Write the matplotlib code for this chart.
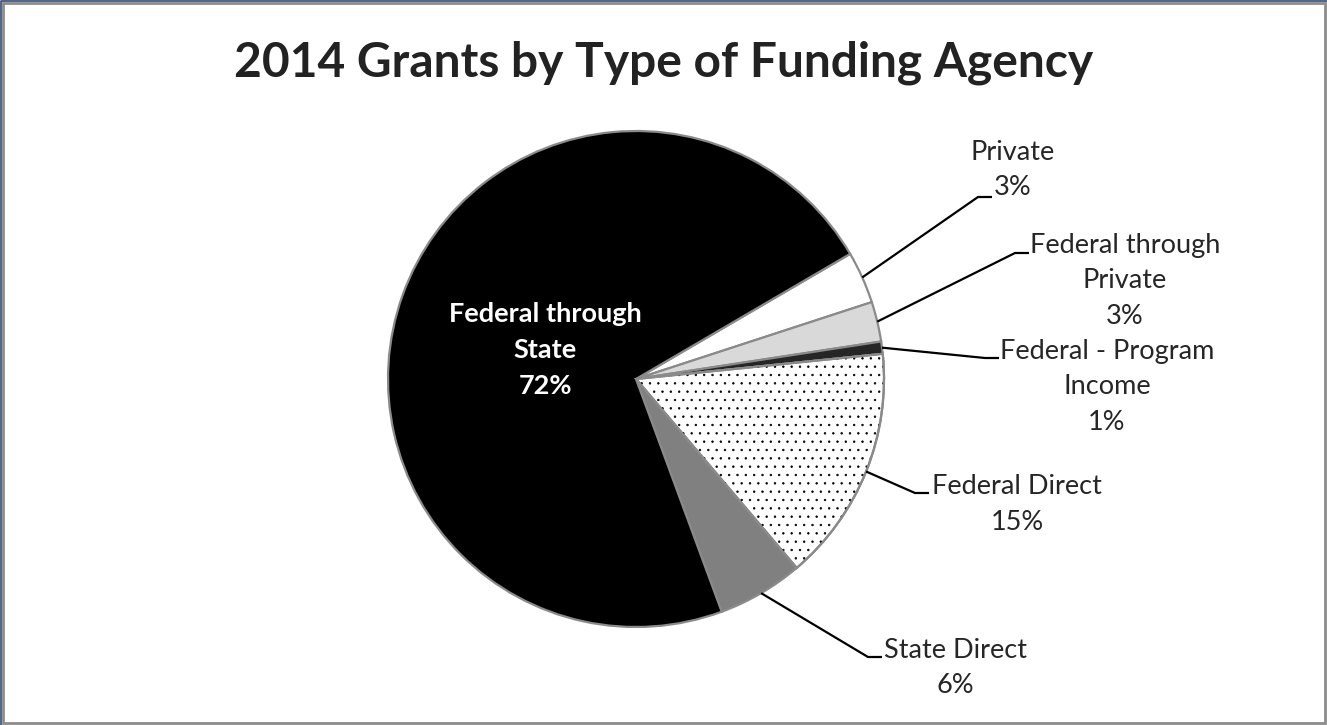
import matplotlib.pyplot as plt
import numpy as np
from matplotlib.patches import Wedge, Rectangle
from matplotlib.lines import Line2D

plt.rcParams['font.family'] = ['Lato', 'DejaVu Sans']
plt.rcParams['hatch.linewidth'] = 0.5

# funding shares (percent), clockwise from the Private slice
agencies = ['Private', 'Federal through\nPrivate', 'Federal - Program\nIncome',
            'Federal Direct', 'State Direct', 'Federal through\nState']
shares = [3.4, 2.6, 0.8, 15.4, 5.6, 72.2]
fills = ['#ffffff', '#d9d9d9', '#262626', '#ffffff', '#808080', '#000000']

W, H = 1327, 725
fig = plt.figure(figsize=(W / 100, H / 100), dpi=100)
ax = fig.add_axes([0, 0, 1, 1])

cx, cy, r = 636, H - 379, 248
wedges, _ = ax.pie(shares, colors=fills, startangle=30.3, counterclock=False,
                   center=(cx, cy), radius=r,
                   wedgeprops=dict(edgecolor='#8a8a8a', linewidth=1.6))

# dotted fill on the Federal Direct slice
fd = wedges[3]
ax.add_patch(Wedge(fd.center, fd.r, fd.theta1, fd.theta2, facecolor='none',
                   edgecolor='black', linewidth=0, hatch='..'))
ax.add_patch(Wedge(fd.center, fd.r, fd.theta1, fd.theta2, facecolor='none',
                   edgecolor='#8a8a8a', linewidth=1.6))

ax.set_xlim(0, W)
ax.set_ylim(0, H)
ax.set_aspect('equal')
ax.axis('off')

# label anchors: (elbow x, elbow y, text centre x, first line y)
label_pos = [
    (978, 197, 1013, 152),
    (1015, 253, 1125, 245),
    (985, 358, 1107, 351),
    (915, 493, 1017, 487),
    (868, 657, 955, 650),
]
line_h = 35.5
for i, (ex, ey, tx, ty) in enumerate(label_pos):
    w = wedges[i]
    mid = np.deg2rad((w.theta1 + w.theta2) / 2)
    sx, sy = cx + r * np.cos(mid), cy + r * np.sin(mid)
    ax.plot([sx, ex, ex + 14], [sy, H - ey, H - ey], color='black', lw=1.6,
            solid_capstyle='butt')
    lines = agencies[i].split('\n') + ['%.0f%%' % shares[i]]
    for k, s in enumerate(lines):
        ax.text(tx, H - (ty + k * line_h), s, ha='center', va='center',
                fontsize=19.5, color='#262626')

# big slice label sits inside the pie
for k, s in enumerate(agencies[5].split('\n') + ['%.0f%%' % shares[5]]):
    ax.text(545, H - (314 + k * 36), s, ha='center', va='center',
            fontsize=19.5, fontweight='bold', color='white')

fig.text(0.5, 1 - 63 / H, '2014 Grants by Type of Funding Agency',
         ha='center', va='center', fontsize=34.5, fontweight='bold',
         color='#222222')

# chart frame
fig.patches.append(Rectangle((2.5 / W, 2.5 / H), 1 - 5 / W, 1 - 5 / H,
                             transform=fig.transFigure, fill=False,
                             edgecolor='#8c8c8c', linewidth=2))
fig.lines.append(Line2D([0.5 / W, 0.5 / W, 1], [0, 1 - 0.5 / H, 1 - 0.5 / H],
                        transform=fig.transFigure, color='#2f4a73', lw=1.2))

fig.savefig('out.png', dpi=100, facecolor='white')
